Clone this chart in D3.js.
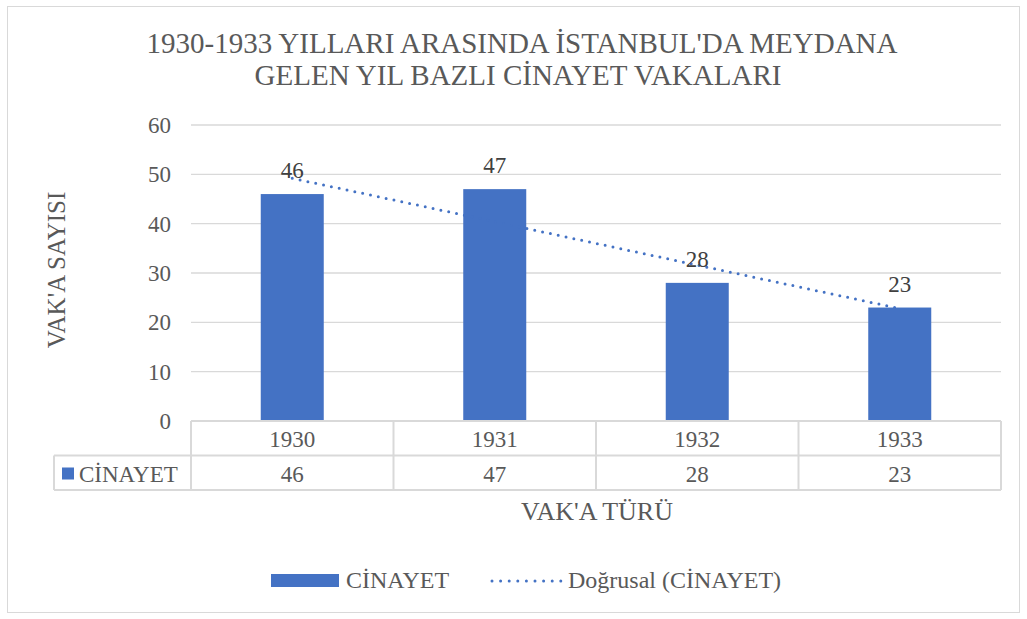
<!DOCTYPE html>
<html>
<head>
<meta charset="utf-8">
<script src="https://cdn.jsdelivr.net/npm/d3@7"></script>
<style>
  body { margin: 0; background: #fff; }
</style>
</head>
<body>
<script>
  var years = ['1930', '1931', '1932', '1933'];
  var murders = [46, 47, 28, 23];
  var yTicks = [0, 10, 20, 30, 40, 50, 60];
  var seriesName = 'CİNAYET';
  var trendName = 'Doğrusal (CİNAYET)';
  var titleLines = ["1930-1933 YILLARI ARASINDA İSTANBUL'DA MEYDANA", 'GELEN YIL BAZLI CİNAYET VAKALARI'];

(function() {
  var W = 1027, H = 619;
  var plotLeft = 191, plotRight = 1001, plotTop = 125, plotBottom = 421;
  var rowH = 34.5;
  var barColor = '#4472C4', gridColor = '#d9d9d9', textColor = '#595959';
  var serif = "'Liberation Serif'";

  var svg = d3.select('body').append('svg').attr('width', W).attr('height', H)
    .style('font-family', serif);

  svg.append('rect').attr('x', 7.5).attr('y', 6.5).attr('width', 1012).attr('height', 606)
    .attr('fill', '#fff').attr('stroke', '#d9d9d9');

  // title
  svg.append('text').attr('x', 522).attr('y', 53).attr('text-anchor', 'middle')
    .attr('fill', textColor).style('font-family', serif).style('font-size', '29px')
    .text(titleLines[0]);
  svg.append('text').attr('x', 518).attr('y', 85).attr('text-anchor', 'middle')
    .attr('fill', textColor).style('font-family', serif).style('font-size', '29px')
    .text(titleLines[1]);

  var x = d3.scaleBand().domain(years).range([plotLeft, plotRight]).paddingInner(0).paddingOuter(0);
  var y = d3.scaleLinear().domain([0, 60]).range([plotBottom, plotTop]);

  // gridlines
  svg.append('g').selectAll('line').data(yTicks.slice(1)).enter().append('line')
    .attr('x1', plotLeft).attr('x2', plotRight)
    .attr('y1', function(d) { return y(d); }).attr('y2', function(d) { return y(d); })
    .attr('stroke', gridColor).attr('stroke-width', 1.3);

  // y tick labels
  svg.append('g').selectAll('text').data(yTicks).enter().append('text')
    .attr('x', 171).attr('y', function(d) { return y(d) + 8; })
    .attr('text-anchor', 'end').attr('fill', textColor).style('font-family', serif)
    .style('font-size', '23px').text(function(d) { return d; });

  // y title
  svg.append('text').attr('transform', 'translate(65,270) rotate(-90)')
    .attr('text-anchor', 'middle').attr('fill', textColor).style('font-family', serif)
    .style('font-size', '25px').text("VAK'A SAYISI");

  // bars
  var barW = 63;
  var cx = function(i) { return x(years[i]) + x.bandwidth() / 2; };
  svg.append('g').selectAll('rect').data(murders).enter().append('rect')
    .attr('x', function(d, i) { return cx(i) - barW / 2; })
    .attr('y', function(d) { return y(d); })
    .attr('width', barW)
    .attr('height', function(d) { return y(0) - y(d); })
    .attr('fill', barColor);

  // linear trend line (least squares over the bar values)
  var n = murders.length, mx = (n + 1) / 2, my = d3.mean(murders);
  var sxy = 0, sxx = 0;
  murders.forEach(function(d, i) { sxy += (i + 1 - mx) * (d - my); sxx += (i + 1 - mx) * (i + 1 - mx); });
  var slope = sxy / sxx, icpt = my - slope * mx;
  svg.append('line')
    .attr('x1', cx(0)).attr('y1', y(icpt + slope * 1))
    .attr('x2', cx(n - 1)).attr('y2', y(icpt + slope * n))
    .attr('stroke', barColor).attr('stroke-width', 3)
    .attr('stroke-dasharray', '0 8').attr('stroke-linecap', 'round');

  // data labels
  svg.append('g').selectAll('text').data(murders).enter().append('text')
    .attr('x', function(d, i) { return cx(i); })
    .attr('y', function(d) { return y(d) - 16; })
    .attr('text-anchor', 'middle').attr('fill', '#404040').style('font-family', serif)
    .style('font-size', '23px').text(function(d) { return d; });

  // data table
  var tbl = svg.append('g').attr('stroke', gridColor).attr('stroke-width', 2).attr('fill', 'none');
  tbl.append('line').attr('x1', plotLeft).attr('x2', plotRight).attr('y1', plotBottom).attr('y2', plotBottom);
  tbl.append('line').attr('x1', 54).attr('x2', plotRight).attr('y1', plotBottom + rowH).attr('y2', plotBottom + rowH);
  tbl.append('line').attr('x1', 54).attr('x2', plotRight).attr('y1', plotBottom + 2 * rowH).attr('y2', plotBottom + 2 * rowH);
  tbl.append('line').attr('x1', 54).attr('x2', 54).attr('y1', plotBottom + rowH).attr('y2', plotBottom + 2 * rowH);
  tbl.selectAll('line.v').data(years.concat(['end'])).enter().append('line')
    .attr('x1', function(d, i) { return plotLeft + i * x.bandwidth(); })
    .attr('x2', function(d, i) { return plotLeft + i * x.bandwidth(); })
    .attr('y1', plotBottom).attr('y2', plotBottom + 2 * rowH);

  svg.append('g').selectAll('text').data(years).enter().append('text')
    .attr('x', function(d, i) { return cx(i); }).attr('y', plotBottom + 26)
    .attr('text-anchor', 'middle').attr('fill', textColor).style('font-family', serif)
    .style('font-size', '23px').text(function(d) { return d; });
  svg.append('g').selectAll('text').data(murders).enter().append('text')
    .attr('x', function(d, i) { return cx(i); }).attr('y', plotBottom + rowH + 26)
    .attr('text-anchor', 'middle').attr('fill', textColor).style('font-family', serif)
    .style('font-size', '23px').text(function(d) { return d; });
  svg.append('rect').attr('x', 62).attr('y', plotBottom + rowH + 12).attr('width', 12).attr('height', 12).attr('fill', barColor);
  svg.append('text').attr('x', 79).attr('y', plotBottom + rowH + 26).attr('fill', textColor)
    .style('font-family', serif).style('font-size', '23px').text(seriesName);

  // x title
  svg.append('text').attr('x', 597).attr('y', 520).attr('text-anchor', 'middle').attr('fill', textColor)
    .style('font-family', serif).style('font-size', '26px').text("VAK'A TÜRÜ");

  // legend
  svg.append('rect').attr('x', 271).attr('y', 574).attr('width', 68).attr('height', 13).attr('fill', barColor);
  svg.append('text').attr('x', 346).attr('y', 588).attr('fill', textColor)
    .style('font-family', serif).style('font-size', '24px').text(seriesName);
  svg.append('line').attr('x1', 492).attr('x2', 561).attr('y1', 581).attr('y2', 581)
    .attr('stroke', barColor).attr('stroke-width', 3)
    .attr('stroke-dasharray', '0 8.6').attr('stroke-linecap', 'round');
  svg.append('text').attr('x', 568).attr('y', 588).attr('fill', textColor)
    .style('font-family', serif).style('font-size', '24px').text(trendName);
})();
</script>
</body>
</html>
